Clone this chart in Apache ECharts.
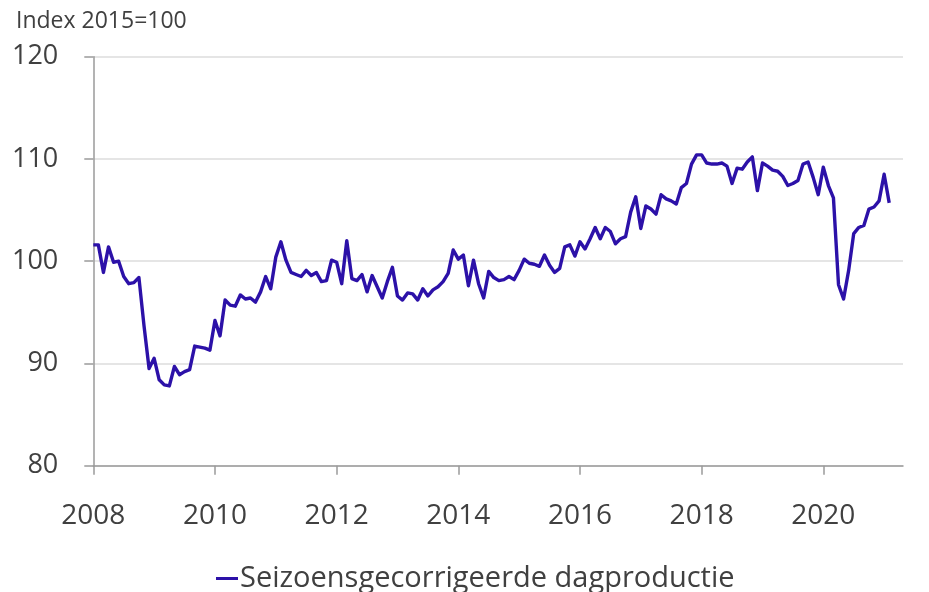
<!DOCTYPE html>
<html>
<head>
<meta charset="utf-8">
<script src="https://cdn.jsdelivr.net/npm/echarts@6/dist/echarts.min.js"></script>
<style>
html,body{margin:0;padding:0;background:#fff;}
#chart{width:929px;height:592px;}
</style>
</head>
<body>
<div id="chart"></div>
<script>
// Monthly index values, January 2008 .. February 2021
const startYear = 2008;
const seriesName = 'Seizoensgecorrigeerde dagproductie';
const unitLabel = 'Index 2015=100';
const yTicks = [80, 90, 100, 110, 120];
const xTickYears = [2008, 2010, 2012, 2014, 2016, 2018, 2020];
const values = [
  101.6, 101.6, 98.9, 101.4, 99.9, 100.0, 98.5, 97.8, 97.9, 98.4, 93.7, 89.5,
  90.5, 88.4, 87.9, 87.8, 89.7, 88.9, 89.2, 89.4, 91.7, 91.6, 91.5, 91.3,
  94.2, 92.7, 96.2, 95.7, 95.6, 96.7, 96.3, 96.4, 96.0, 97.0, 98.5, 97.3,
  100.4, 101.9, 100.1, 98.9, 98.7, 98.5, 99.1, 98.6, 98.9, 98.0, 98.1, 100.1,
  99.9, 97.8, 102.0, 98.3, 98.1, 98.7, 97.0, 98.6, 97.5, 96.4, 98.0, 99.4,
  96.6, 96.2, 96.9, 96.8, 96.2, 97.3, 96.6, 97.2, 97.5, 98.0, 98.8, 101.1,
  100.2, 100.6, 97.6, 100.1, 97.8, 96.4, 99.0, 98.4, 98.1, 98.2, 98.5, 98.2,
  99.1, 100.2, 99.8, 99.7, 99.5, 100.6, 99.6, 98.9, 99.3, 101.4, 101.6, 100.5,
  101.9, 101.2, 102.2, 103.3, 102.2, 103.3, 102.9, 101.7, 102.2, 102.4, 104.8, 106.3,
  103.2, 105.4, 105.1, 104.6, 106.5, 106.1, 105.9, 105.6, 107.2, 107.6, 109.5, 110.4,
  110.4, 109.6, 109.5, 109.5, 109.6, 109.3, 107.6, 109.1, 109.0, 109.7, 110.2, 106.9,
  109.6, 109.3, 108.9, 108.8, 108.3, 107.4, 107.6, 107.9, 109.5, 109.7, 108.2, 106.5,
  109.2, 107.4, 106.2, 97.7, 96.3, 99.1, 102.7, 103.3, 103.5, 105.1, 105.3, 105.9,
  108.5, 105.7
];

const data = values.map((v, i) => [startYear + i / 12, v]);

const FONT = '"Open Sans", "Noto Sans", sans-serif';
const chart = echarts.init(document.getElementById('chart'), null, {renderer: 'canvas'});
chart.setOption({
  animation: false,
  backgroundColor: '#ffffff',
  title: {
    text: unitLabel,
    left: 11,
    top: 5,
    textStyle: {fontFamily: FONT, fontSize: 23, fontWeight: 'normal', color: '#404040'}
  },
  legend: {
    data: [seriesName],
    left: 211,
    top: 559,
    icon: 'rect',
    itemWidth: 22,
    itemHeight: 3,
    itemGap: 10,
    textStyle: {fontFamily: FONT, fontSize: 29, color: '#404040', padding: [0, 0, 0, -3]}
  },
  grid: {left: 93.3, right: 26, top: 56.7, bottom: 126.3, containLabel: false},
  xAxis: {
    type: 'value',
    min: 2008,
    max: 2021.31,
    interval: 2,
    axisLine: {show: true, lineStyle: {color: '#9a9a9a', width: 1.5}},
    axisTick: {show: true, length: 9, lineStyle: {color: '#9a9a9a', width: 1.5},
      customValues: xTickYears},
    axisLabel: {
      fontFamily: FONT, fontSize: 28, color: '#404040', margin: 36,
      customValues: xTickYears,
      formatter: v => String(Math.round(v))
    },
    splitLine: {show: false}
  },
  yAxis: {
    type: 'value',
    min: yTicks[0],
    max: yTicks[yTicks.length - 1],
    interval: 10,
    axisLine: {show: true, lineStyle: {color: '#9a9a9a', width: 1.5}},
    axisTick: {show: true, inside: false, length: 9, lineStyle: {color: '#9a9a9a', width: 1.5}},
    axisLabel: {fontFamily: FONT, fontSize: 27, color: '#404040', margin: 35},
    splitLine: {show: true, lineStyle: {color: '#dcdcdc', width: 1.5}}
  },
  series: [{
    name: seriesName,
    type: 'line',
    data: data,
    showSymbol: false,
    symbol: 'none',
    lineStyle: {color: '#2c11a8', width: 3.4, join: 'round'},
    itemStyle: {color: '#2c11a8'}
  }]
});
</script>
</body>
</html>
